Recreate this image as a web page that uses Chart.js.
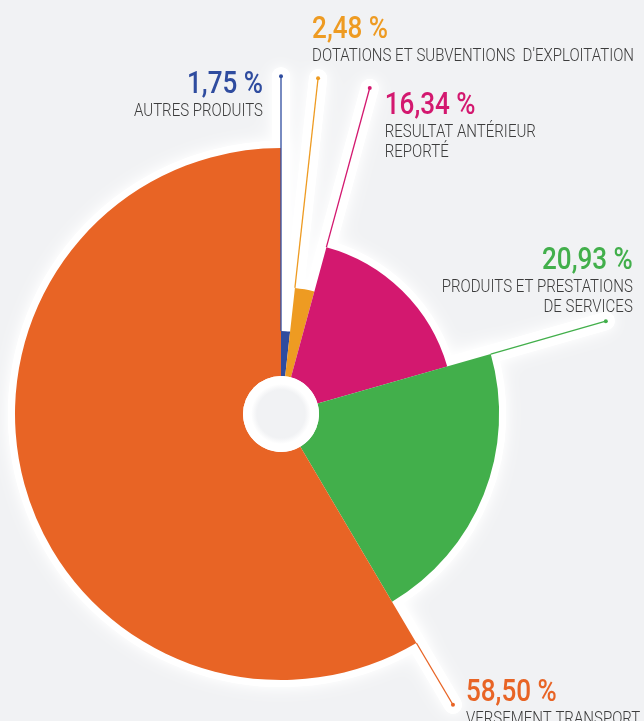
<!DOCTYPE html>
<html>
<head>
<meta charset="utf-8">
<script src="https://cdn.jsdelivr.net/npm/chart.js@4"></script>
<style>
  html, body { margin: 0; padding: 0; background: #f1f2f4; }
  #wrap { width: 644px; height: 721px; }
</style>
</head>
<body>
<div id="wrap"><canvas id="recettes_pie_chart" width="644" height="721"></canvas></div>
<script>
// data, clockwise from the top
var categories = [
    ["AUTRES PRODUITS"],
    ["DOTATIONS ET SUBVENTIONS  D'EXPLOITATION"],
    ["RESULTAT ANTÉRIEUR", "REPORTÉ"],
    ["PRODUITS ET PRESTATIONS", "DE SERVICES"],
    ["VERSEMENT TRANSPORT"]
];
var shares = [1.75, 2.48, 16.34, 20.93, 58.50];
var sliceColors = ['#2f4c9f', '#ee9b22', '#d3186f', '#42af4b', '#e86425'];

// style: radius of each slice relative to the biggest one
var sliceScale = [0.312, 0.477, 0.65, 0.82, 1.0];
var leaderScale = 1.27;
// label placement relative to the dot at the end of each leader line
var labelOffsets = [
    {dx: -18, dy: 17, align: 'right'},
    {dx: -6, dy: -40, align: 'left'},
    {dx: 15, dy: 26, align: 'left'},
    {dx: 27, dy: -52, align: 'right'},
    {dx: 13, dy: -4, align: 'left'}
];

var bgColor = '#f1f2f4';
var textColor = '#3c3c3c';
var shareFont = '500 32px Roboto, "DejaVu Sans Condensed", sans-serif';
var nameFont = '300 19px Roboto, "DejaVu Sans Condensed", sans-serif';
var shareSqueeze = 1, nameSqueeze = 1;

function formatShare(v) {
    return v.toFixed(2).replace('.', ',') + ' %';
}

// narrow the fonts so that they take about as much room as in the picture
function calibrate(ctx) {
    ctx.save();
    ctx.font = shareFont;
    shareSqueeze = 76 / ctx.measureText('2,48 %').width;
    ctx.font = nameFont;
    nameSqueeze = 129 / ctx.measureText('AUTRES PRODUITS').width;
    ctx.restore();
}

function squeezedText(ctx, text, x, y, align, squeeze) {
    ctx.save();
    ctx.translate(x, y);
    ctx.scale(squeeze, 1);
    ctx.textAlign = align;
    ctx.fillText(text, 0, 0);
    ctx.restore();
}

function leaderPoints(arc) {
    var a = arc.startAngle;
    var rEnd = arc.$baseRadius * leaderScale;
    return {
        x0: arc.x + Math.cos(a) * arc.outerRadius, y0: arc.y + Math.sin(a) * arc.outerRadius,
        x1: arc.x + Math.cos(a) * rEnd, y1: arc.y + Math.sin(a) * rEnd
    };
}

function drawHalo(ctx, meta) {
    meta.data.forEach(function (arc) {
        var r = arc.outerRadius + 7;
        var d = 7 / r;
        ctx.beginPath();
        ctx.moveTo(arc.x, arc.y);
        ctx.arc(arc.x, arc.y, r, arc.startAngle - d, arc.endAngle + d);
        ctx.closePath();
        ctx.fill();
    });
    meta.data.forEach(function (arc) {
        var p = leaderPoints(arc);
        ctx.beginPath();
        ctx.moveTo(arc.x, arc.y);
        ctx.lineTo(p.x1, p.y1);
        ctx.stroke();
    });
}

var variableRadius = {
    id: 'variableRadius',
    afterDatasetsUpdate: function (chart) {
        var meta = chart.getDatasetMeta(0);
        var base = meta.controller.outerRadius;
        meta.data.forEach(function (arc, i) {
            arc.$baseRadius = base;
            arc.outerRadius = base * sliceScale[i];
        });
    },
    beforeDatasetsDraw: function (chart) {
        var ctx = chart.ctx;
        var meta = chart.getDatasetMeta(0);
        ctx.save();
        ctx.fillStyle = '#ffffff';
        ctx.strokeStyle = '#ffffff';
        ctx.shadowColor = 'rgba(255,255,255,0.9)';
        ctx.lineWidth = 18;
        ctx.lineCap = 'round';
        ctx.shadowBlur = 22;
        drawHalo(ctx, meta);
        ctx.shadowBlur = 10;
        drawHalo(ctx, meta);
        ctx.restore();
    },
    afterDatasetsDraw: function (chart) {
        var ctx = chart.ctx;
        var meta = chart.getDatasetMeta(0);
        var first = meta.data[0];
        var cx = first.x, cy = first.y;
        calibrate(ctx);

        // centre ring
        ctx.save();
        ctx.fillStyle = '#ffffff';
        ctx.beginPath();
        ctx.arc(cx, cy, first.innerRadius, 0, Math.PI * 2);
        ctx.fill();
        var g = ctx.createRadialGradient(cx, cy, 24, cx, cy, 30);
        g.addColorStop(0, bgColor);
        g.addColorStop(1, '#ffffff');
        ctx.fillStyle = g;
        ctx.beginPath();
        ctx.arc(cx, cy, 30, 0, Math.PI * 2);
        ctx.fill();
        ctx.restore();

        // leader lines and labels
        meta.data.forEach(function (arc, i) {
            var p = leaderPoints(arc);
            ctx.save();
            ctx.strokeStyle = sliceColors[i];
            ctx.fillStyle = sliceColors[i];
            ctx.lineWidth = 1.3;
            ctx.beginPath();
            ctx.moveTo(p.x0, p.y0);
            ctx.lineTo(p.x1, p.y1);
            ctx.stroke();
            ctx.beginPath();
            ctx.arc(p.x1, p.y1, 2, 0, Math.PI * 2);
            ctx.fill();

            var o = labelOffsets[i];
            var lx = p.x1 + o.dx, ly = p.y1 + o.dy;
            ctx.textBaseline = 'alphabetic';
            ctx.font = shareFont;
            squeezedText(ctx, formatShare(shares[i]), lx, ly, o.align, shareSqueeze);
            ctx.fillStyle = textColor;
            ctx.font = nameFont;
            var lines = categories[i];
            for (var k = 0; k < lines.length; k++) {
                squeezedText(ctx, lines[k], lx, ly + 23 + k * 20, o.align, nameSqueeze);
            }
            ctx.restore();
        });
    }
};

var ctx = document.getElementById('recettes_pie_chart').getContext('2d');
var chart = new Chart(ctx, {
    type: 'doughnut',
    data: {
        labels: categories,
        datasets: [{
            data: shares,
            backgroundColor: sliceColors,
            borderWidth: 0,
            hoverOffset: 0
        }]
    },
    options: {
        responsive: false,
        animation: false,
        events: [],
        cutout: 38,
        layout: {padding: {left: 15, right: 97, top: 148, bottom: 41}},
        plugins: {legend: {display: false}, tooltip: {enabled: false}}
    },
    plugins: [variableRadius]
});
</script>
</body>
</html>
